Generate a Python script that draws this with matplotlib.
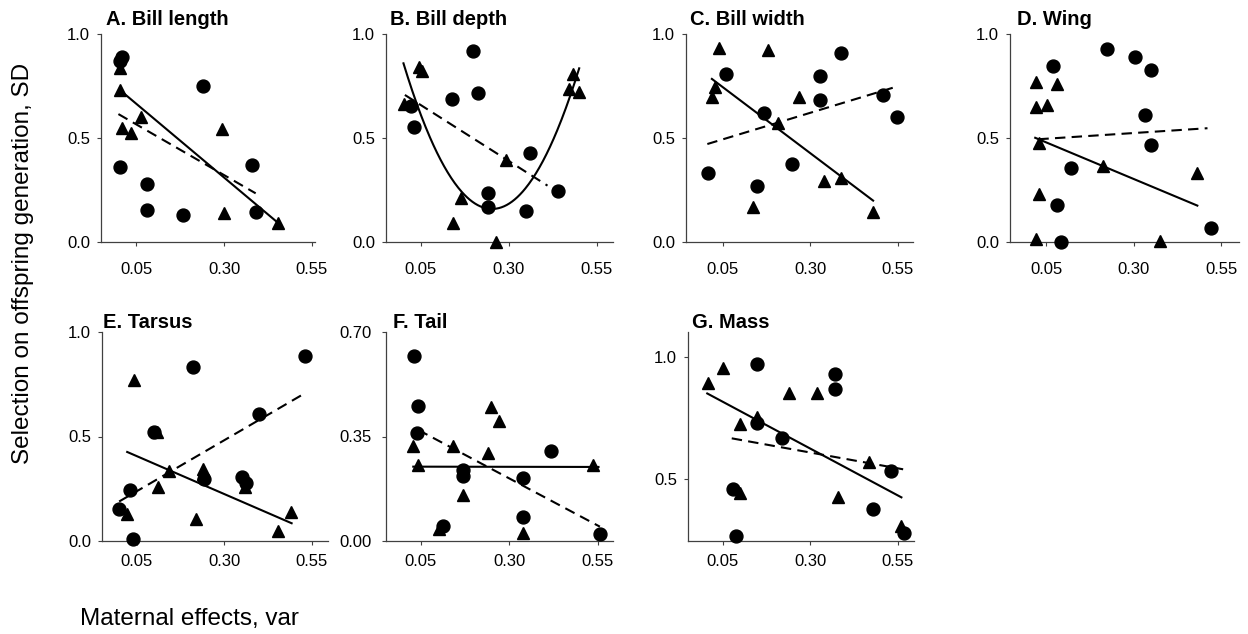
import numpy as np
import matplotlib
matplotlib.use("Agg")
import matplotlib.pyplot as plt

plt.rcParams["font.family"] = ["Liberation Sans", "DejaVu Sans"]

# ---- data (x = maternal effects, y = selection) ----

# A. Bill length
a_circle_x = [0.008, 0.004, 0.004, 0.080, 0.080, 0.182, 0.241, 0.380, 0.390]
a_circle_y = [0.888, 0.870, 0.359, 0.279, 0.154, 0.130, 0.750, 0.370, 0.143]
a_tri_x = [0.004, 0.003, 0.008, 0.034, 0.063, 0.293, 0.300, 0.453]
a_tri_y = [0.835, 0.731, 0.547, 0.526, 0.600, 0.542, 0.141, 0.093]
a_solid_x, a_solid_y = [0.003, 0.453], [0.731, 0.093]
a_dash_x, a_dash_y = [-0.001, 0.390], [0.615, 0.234]

# B. Bill depth (solid line is a quadratic through three read points)
b_circle_x = [0.022, 0.032, 0.140, 0.199, 0.212, 0.240, 0.240, 0.359, 0.349, 0.439]
b_circle_y = [0.654, 0.554, 0.688, 0.918, 0.715, 0.237, 0.170, 0.426, 0.147, 0.247]
b_tri_x = [0.003, 0.045, 0.055, 0.141, 0.164, 0.264, 0.291, 0.482, 0.470, 0.500]
b_tri_y = [0.662, 0.840, 0.820, 0.093, 0.213, 0.000, 0.394, 0.808, 0.734, 0.723]
b_curve_x, b_curve_y = [0.001, 0.256, 0.500], [0.859, 0.159, 0.835]
b_dash_x, b_dash_y = [0.005, 0.410], [0.707, 0.271]

# C. Bill width
c_circle_x = [0.007, 0.059, 0.149, 0.168, 0.249, 0.328, 0.328, 0.388, 0.507, 0.549]
c_circle_y = [0.330, 0.808, 0.269, 0.622, 0.375, 0.798, 0.683, 0.907, 0.707, 0.600]
c_tri_x = [0.020, 0.028, 0.040, 0.137, 0.180, 0.209, 0.269, 0.340, 0.387, 0.480]
c_tri_y = [0.699, 0.744, 0.931, 0.170, 0.923, 0.571, 0.699, 0.293, 0.306, 0.146]
c_solid_x, c_solid_y = [0.019, 0.480], [0.784, 0.199]
c_dash_x, c_dash_y = [0.006, 0.547], [0.471, 0.747]

# D. Wing
d_circle_x = [0.071, 0.081, 0.093, 0.121, 0.223, 0.304, 0.350, 0.333, 0.350, 0.521]
d_circle_y = [0.848, 0.178, 0.000, 0.354, 0.926, 0.888, 0.827, 0.610, 0.466, 0.069]
d_tri_x = [0.021, 0.021, 0.052, 0.081, 0.030, 0.031, 0.021, 0.212, 0.374, 0.480]
d_tri_y = [0.771, 0.650, 0.659, 0.760, 0.477, 0.231, 0.013, 0.367, 0.005, 0.333]
d_solid_x, d_solid_y = [0.019, 0.482], [0.501, 0.175]
d_dash_x, d_dash_y = [0.028, 0.511], [0.494, 0.547]

# E. Tarsus
e_circle_x = [-0.001, 0.030, 0.039, 0.099, 0.209, 0.241, 0.351, 0.363, 0.399, 0.530]
e_circle_y = [0.152, 0.245, 0.008, 0.522, 0.833, 0.298, 0.306, 0.277, 0.606, 0.883]
e_tri_x = [0.022, 0.041, 0.106, 0.111, 0.141, 0.220, 0.239, 0.239, 0.360, 0.452, 0.490]
e_tri_y = [0.128, 0.769, 0.520, 0.258, 0.337, 0.106, 0.346, 0.320, 0.260, 0.050, 0.141]
e_solid_x, e_solid_y = [0.022, 0.492], [0.426, 0.085]
e_dash_x, e_dash_y = [-0.001, 0.533], [0.189, 0.710]

# F. Tail
f_circle_x = [0.031, 0.042, 0.039, 0.112, 0.170, 0.170, 0.338, 0.338, 0.417, 0.556]
f_circle_y = [0.620, 0.452, 0.361, 0.050, 0.238, 0.218, 0.210, 0.081, 0.302, 0.023]
f_tri_x = [0.029, 0.041, 0.103, 0.140, 0.170, 0.241, 0.249, 0.271, 0.340, 0.536]
f_tri_y = [0.319, 0.255, 0.040, 0.319, 0.154, 0.294, 0.448, 0.403, 0.026, 0.255]
f_solid_x, f_solid_y = [0.029, 0.552], [0.249, 0.248]
f_dash_x, f_dash_y = [0.043, 0.556], [0.372, 0.048]

# G. Mass
g_circle_x = [0.149, 0.079, 0.088, 0.149, 0.219, 0.371, 0.371, 0.479, 0.530, 0.569]
g_circle_y = [0.971, 0.460, 0.269, 0.732, 0.668, 0.930, 0.870, 0.377, 0.535, 0.279]
g_tri_x = [0.007, 0.050, 0.099, 0.099, 0.149, 0.239, 0.320, 0.379, 0.469, 0.559]
g_tri_y = [0.893, 0.955, 0.725, 0.445, 0.757, 0.852, 0.852, 0.426, 0.572, 0.310]
g_solid_x, g_solid_y = [0.006, 0.561], [0.852, 0.426]
g_dash_x, g_dash_y = [0.076, 0.566], [0.668, 0.541]

titles = ["A. Bill length", "B. Bill depth", "C. Bill width", "D. Wing",
          "E. Tarsus", "F. Tail", "G. Mass"]
x_ticks = [0.05, 0.30, 0.55]
x_tick_labels = ["0.05", "0.30", "0.55"]
y_ticks_unit = [0.0, 0.5, 1.0]
y_labels_unit = ["0.0", "0.5", "1.0"]
y_ticks_tail = [0.0, 0.35, 0.70]
y_labels_tail = ["0.00", "0.35", "0.70"]
y_ticks_mass = [0.5, 1.0]
y_labels_mass = ["0.5", "1.0"]

W, H = 1248, 634
AXIS_COLOR = "#404040"

fig = plt.figure(figsize=(W / 100, H / 100), dpi=100)


def add_panel(box, xlim, ylim):
    # box is (left, bottom, right, top) in pixels from the top-left corner
    l, b, r, t = box
    ax = fig.add_axes([l / W, 1 - b / H, (r - l) / W, (b - t) / H])
    ax.set_xlim(*xlim)
    ax.set_ylim(*ylim)
    for side in ["top", "right"]:
        ax.spines[side].set_visible(False)
    for side in ["left", "bottom"]:
        ax.spines[side].set_color(AXIS_COLOR)
        ax.spines[side].set_linewidth(0.9)
    ax.tick_params(direction="out", length=3, width=0.8, color=AXIS_COLOR,
                   labelsize=12, labelcolor="black")
    ax.set_xticks(x_ticks)
    ax.set_xticklabels(x_tick_labels)
    return ax


def draw(ax, cx, cy, tx, ty, sx, sy, dx, dy, curve=False):
    if curve:
        coef = np.polyfit(sx, sy, 2)
        xs = np.linspace(sx[0], sx[-1], 200)
        ax.plot(xs, np.polyval(coef, xs), color="black", lw=1.5, zorder=2)
    else:
        ax.plot(sx, sy, color="black", lw=1.5, zorder=2)
    ax.plot(dx, dy, color="black", lw=1.5, ls=(0, (5, 3)), zorder=2)
    ax.plot(cx, cy, "o", color="black", ms=9.3, ls="none", clip_on=False, zorder=3)
    ax.plot(tx, ty, "^", color="black", ms=9.3, ls="none", clip_on=False, zorder=3)


panels = [
    ((101, 242, 315, 34), (-0.0506, 0.559), (0, 1.0),
     (a_circle_x, a_circle_y, a_tri_x, a_tri_y, a_solid_x, a_solid_y, a_dash_x, a_dash_y), False),
    ((386, 242, 613, 34), (-0.0486, 0.596), (0, 1.0),
     (b_circle_x, b_circle_y, b_tri_x, b_tri_y, b_curve_x, b_curve_y, b_dash_x, b_dash_y), True),
    ((686, 242, 913, 34), (-0.055, 0.594), (0, 1.0),
     (c_circle_x, c_circle_y, c_tri_x, c_tri_y, c_solid_x, c_solid_y, c_dash_x, c_dash_y), False),
    ((1010, 242, 1239, 34), (-0.053, 0.601), (0, 1.0),
     (d_circle_x, d_circle_y, d_tri_x, d_tri_y, d_solid_x, d_solid_y, d_dash_x, d_dash_y), False),
    ((102, 541, 328, 332), (-0.05, 0.596), (0, 1.0),
     (e_circle_x, e_circle_y, e_tri_x, e_tri_y, e_solid_x, e_solid_y, e_dash_x, e_dash_y), False),
    ((386, 541, 613, 332), (-0.048, 0.593), (0, 0.70),
     (f_circle_x, f_circle_y, f_tri_x, f_tri_y, f_solid_x, f_solid_y, f_dash_x, f_dash_y), False),
    ((688, 541, 914, 332), (-0.049, 0.597), (0.247, 1.104),
     (g_circle_x, g_circle_y, g_tri_x, g_tri_y, g_solid_x, g_solid_y, g_dash_x, g_dash_y), False),
]

# left edge and baseline of each panel title, pixels
title_pos = [(106, 25), (390, 25), (690, 25), (1017, 25),
             (103, 328), (393, 328), (692, 328)]

for i, (box, xlim, ylim, series, curve) in enumerate(panels):
    ax = add_panel(box, xlim, ylim)
    draw(ax, *series, curve=curve)
    if i == 5:
        ax.set_yticks(y_ticks_tail)
        ax.set_yticklabels(y_labels_tail)
        ax.tick_params(axis="y", pad=7)
    elif i == 6:
        ax.set_yticks(y_ticks_mass)
        ax.set_yticklabels(y_labels_mass)
        ax.tick_params(axis="y", pad=5)
    else:
        ax.set_yticks(y_ticks_unit)
        ax.set_yticklabels(y_labels_unit)
        ax.tick_params(axis="y", pad=5)
    # top row has more room under the x axis than the bottom row
    ax.tick_params(axis="x", pad=11.5 if i < 4 else 6)
    tx, ty = title_pos[i]
    fig.text(tx / W, 1 - ty / H, titles[i], fontsize=14.5, fontweight="bold",
             ha="left", va="baseline")

fig.text(23 / W, 1 - 263 / H, "Selection on offspring generation, SD",
         rotation=90, fontsize=17.5, ha="center", va="center")
fig.text(80 / W, 1 - 625 / H, "Maternal effects, var", fontsize=17.5,
         ha="left", va="baseline")

fig.savefig("out.png", dpi=100)
